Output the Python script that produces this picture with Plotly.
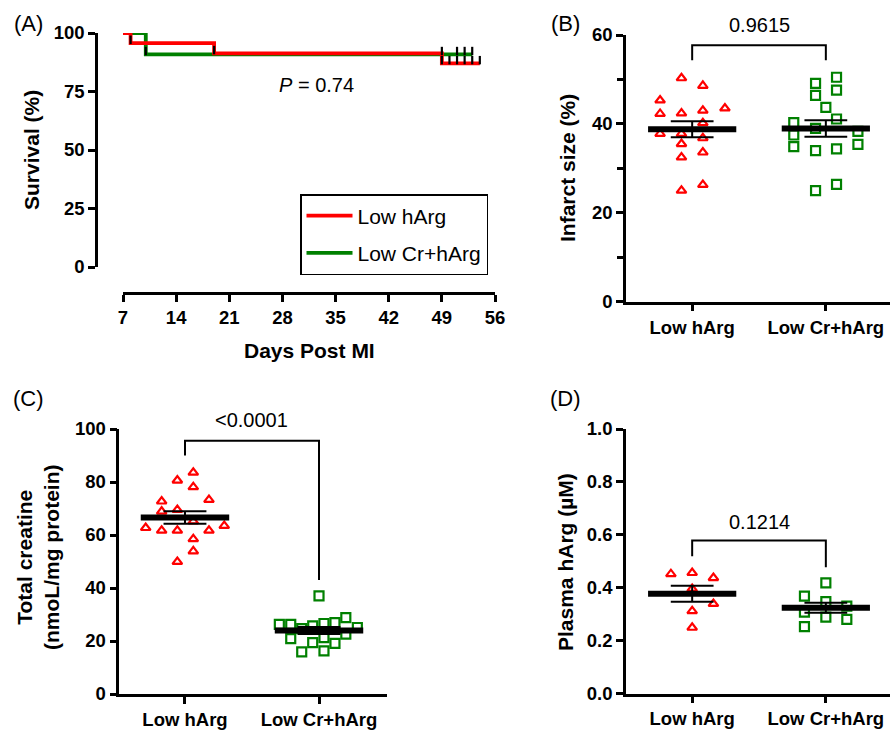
import numpy as np
import plotly.graph_objects as go

# ---------------- data ----------------
# (A) Kaplan-Meier survival
surv_low_t = [7, 8, 19, 49, 54]
surv_low_pct = [100, 95.7, 91.3, 87.0, 87.0]
surv_cr_t = [7, 10, 53]
surv_cr_pct = [100, 90.9, 90.9]
event_low_t = [8, 19, 49]
event_cr_t = [10]
cens_low_t = [50, 51, 52, 53, 54]
cens_cr_t = [49, 51, 52, 53]
days_ticks = [7, 14, 21, 28, 35, 42, 49, 56]
surv_ticks = [0, 25, 50, 75, 100]
p_text_a = "<i>P</i> = 0.74"

groups = ["Low hArg", "Low Cr+hArg"]

# (B) Infarct size (%)
b_low = [50.3, 48.6, 45.3, 43.5, 43.0, 42.4, 42.3, 40.2, 37.8, 37.8, 36.8, 35.5, 33.6, 32.5, 26.3, 25.0]
b_low_jit = [-0.08, 0.08, -0.24, 0.245, 0.08, -0.08, -0.24, 0.08, -0.24, -0.08, 0.08, -0.08, 0.08, -0.08, 0.08, -0.08]
b_cr = [50.5, 49.1, 47.6, 46.4, 43.7, 41.1, 40.3, 39.0, 38.3, 37.5, 35.4, 34.9, 34.4, 34.0, 26.4, 25.0]
b_cr_jit = [0.08, -0.077, 0.08, -0.077, 0.0, 0.08, -0.24, -0.077, 0.24, -0.24, 0.24, -0.24, 0.08, -0.077, 0.08, -0.077]
b_p = "0.9615"

# (C) Total creatine (nmoL/mg protein)
c_low = [83.6, 80.6, 78.1, 72.7, 73.3, 69.5, 68.9, 65.2, 62.7, 61.7, 61.7, 61.7, 63.5, 58.5, 53.9, 49.9]
c_low_jit = [0.062, -0.057, 0.062, -0.174, 0.179, -0.057, -0.174, 0.062, -0.293, -0.174, -0.057, 0.179, 0.293, 0.062, 0.062, -0.057]
c_cr = [37.0, 26.3, 26.3, 24.7, 25.7, 26.6, 26.9, 28.8, 25.1, 20.9, 19.4, 21.3, 19.1, 22.6, 15.9, 16.3]
c_cr_jit = [0.0, -0.296, -0.211, -0.129, -0.047, 0.037, 0.119, 0.2, 0.286, -0.211, -0.047, 0.037, 0.119, 0.2, -0.129, 0.037]
c_p = "<0.0001"

# (D) Plasma hArg (uM)
d_low = [0.452, 0.456, 0.437, 0.396, 0.339, 0.312, 0.249]
d_low_jit = [-0.159, 0.0, 0.159, 0.0, 0.159, 0.0, 0.0]
d_cr = [0.418, 0.368, 0.347, 0.330, 0.308, 0.289, 0.280, 0.253]
d_cr_jit = [0.0, -0.16, 0.0, 0.157, -0.16, 0.0, 0.157, -0.16]
d_p = "0.1214"

RED = "#FF0000"
GREEN = "#008000"
FONT = "Liberation Sans, Arial, sans-serif"
W, H = 891, 730


def px_x(p):
    return p / W


def px_y(p):
    return (H - p) / H


fig = go.Figure()


def step_at(ts, ys, t):
    v = ys[0]
    for tt, yy in zip(ts, ys):
        if tt <= t:
            v = yy
    return v


# ---------- Panel A ----------
fig.add_trace(go.Scatter(x=surv_cr_t, y=surv_cr_pct, mode="lines", line=dict(color=GREEN, width=3.8, shape="hv"),
                         name="Low Cr+hArg", legendrank=2, legendgroup="g2",
                         xaxis="x", yaxis="y", cliponaxis=False))
fig.add_trace(go.Scatter(x=surv_low_t, y=surv_low_pct, mode="lines", line=dict(color=RED, width=3.8, shape="hv"),
                         name="Low hArg", legendrank=1, legendgroup="g1",
                         xaxis="x", yaxis="y", cliponaxis=False))

mk_x, mk_y = [], []
for t in event_low_t + cens_low_t:
    mk_x.append(t)
    mk_y.append(step_at(surv_low_t, surv_low_pct, t) + 1.4)
for t in event_cr_t + cens_cr_t:
    mk_x.append(t)
    mk_y.append(step_at(surv_cr_t, surv_cr_pct, t) + 1.4)
fig.add_trace(go.Scatter(x=mk_x, y=mk_y, mode="markers", showlegend=False, xaxis="x", yaxis="y", cliponaxis=False,
                         marker=dict(symbol="line-ns", size=6, line=dict(color="black", width=2.2))))


# ---------- scatter panels ----------
def dot_panel(xa, ya, low, low_jit, cr, cr_jit):
    fig.add_trace(go.Scatter(x=[0 + j for j in low_jit], y=low, mode="markers", showlegend=False,
                             xaxis=xa, yaxis=ya, cliponaxis=False,
                             marker=dict(symbol="triangle-up-open", size=8.5, color=RED, line=dict(color=RED, width=2.2))))
    fig.add_trace(go.Scatter(x=[1 + j for j in cr_jit], y=cr, mode="markers", showlegend=False,
                             xaxis=xa, yaxis=ya, cliponaxis=False,
                             marker=dict(symbol="square-open", size=9, color=GREEN, line=dict(color=GREEN, width=2.2))))
    for c, vals in ((0, low), (1, cr)):
        arr = np.array(vals, dtype=float)
        m = arr.mean()
        sem = arr.std(ddof=1) / np.sqrt(len(arr))
        # SEM
        fig.add_trace(go.Scatter(x=[c - 0.16, c + 0.16, None, c, c, None, c - 0.16, c + 0.16],
                                 y=[m + sem, m + sem, None, m + sem, m - sem, None, m - sem, m - sem],
                                 mode="lines", line=dict(color="black", width=2), showlegend=False,
                                 xaxis=xa, yaxis=ya, cliponaxis=False, hoverinfo="skip"))
        # mean
        fig.add_trace(go.Scatter(x=[c - 0.33, c + 0.33], y=[m, m], mode="lines",
                                 line=dict(color="black", width=6), showlegend=False,
                                 xaxis=xa, yaxis=ya, cliponaxis=False, hoverinfo="skip"))


def bracket(xa, ya, y_left, y_top, y_right):
    fig.add_trace(go.Scatter(x=[0, 0, 1, 1], y=[y_left, y_top, y_top, y_right], mode="lines",
                             line=dict(color="black", width=2), showlegend=False,
                             xaxis=xa, yaxis=ya, cliponaxis=False, hoverinfo="skip"))


dot_panel("x2", "y2", b_low, b_low_jit, b_cr, b_cr_jit)
bracket("x2", "y2", 54.3, 57.7, 54.3)
dot_panel("x3", "y3", c_low, c_low_jit, c_cr, c_cr_jit)
bracket("x3", "y3", 90.0, 95.6, 43.0)
dot_panel("x4", "y4", d_low, d_low_jit, d_cr, d_cr_jit)
bracket("x4", "y4", 0.519, 0.578, 0.477)

# ---------- axes ----------
tickfont = dict(family=FONT, size=18.5, color="black", weight="bold")
common = dict(showline=True, linecolor="black", linewidth=2.5, ticks="outside", ticklen=7, tickwidth=2.5,
              tickcolor="black", showgrid=False, zeroline=False, tickfont=tickfont, fixedrange=True,
              automargin=False)

cat_range = [-0.495, 1.48]

fig.update_layout(
    width=W, height=H,
    margin=dict(l=0, r=0, t=0, b=0, autoexpand=False),
    paper_bgcolor="white", plot_bgcolor="white",
    font=dict(family=FONT, color="black"),
    xaxis=dict(domain=[px_x(123), px_x(495)], range=[7, 56], tickvals=days_ticks,
               anchor="free", position=px_y(293), **common),
    yaxis=dict(domain=[px_y(267), px_y(33)], range=[0, 100], tickvals=surv_ticks,
               anchor="free", position=px_x(96), **common),
    xaxis2=dict(domain=[px_x(626), px_x(890)], range=cat_range, tickvals=[0, 1], ticktext=groups,
                anchor="y2", **common),
    yaxis2=dict(domain=[px_y(301.7), px_y(35)], range=[0, 60], tickvals=[0, 20, 40, 60],
                minor=dict(tickvals=[10, 30, 50], ticklen=6, tickwidth=2.5, tickcolor="black", ticks="outside"),
                anchor="x2", **common),
    xaxis3=dict(domain=[px_x(119.3), px_x(386.7)], range=[-0.49, 1.505], tickvals=[0, 1], ticktext=groups,
                anchor="y3", **common),
    yaxis3=dict(domain=[px_y(694), px_y(429)], range=[0, 100], tickvals=[0, 20, 40, 60, 80, 100],
                anchor="x3", **common),
    xaxis4=dict(domain=[px_x(626), px_x(890)], range=cat_range, tickvals=[0, 1], ticktext=groups,
                anchor="y4", **common),
    yaxis4=dict(domain=[px_y(693.5), px_y(429)], range=[0, 1], tickvals=[0, 0.2, 0.4, 0.6, 0.8, 1.0],
                tickformat=".1f", anchor="x4", **common),
    legend=dict(x=px_x(300), y=px_y(194), xanchor="left", yanchor="top",
                bordercolor="black", borderwidth=1.5, bgcolor="white", tracegroupgap=7,
                font=dict(family=FONT, size=21, color="black"), itemwidth=46),
    showlegend=True,
)

reg = dict(family=FONT, size=20, color="black")
bold = dict(family=FONT, size=21, color="black", weight="bold")
letter = dict(family=FONT, size=22, color="black")
ann = [
    # panel letters
    dict(text="(A)", x=px_x(29), y=px_y(24), font=letter),
    dict(text="(B)", x=px_x(565), y=px_y(24), font=letter),
    dict(text="(C)", x=px_x(29), y=px_y(399), font=letter),
    dict(text="(D)", x=px_x(565), y=px_y(399), font=letter),
    # axis titles
    dict(text="Survival (%)", x=px_x(31), y=px_y(150), textangle=-90, font=bold),
    dict(text="Days Post MI", x=px_x(309), y=px_y(350), font=bold),
    dict(text="Infarct size (%)", x=px_x(567), y=px_y(168), textangle=-90, font=bold),
    dict(text="Total creatine<br>(nmoL/mg protein)", x=px_x(38), y=px_y(558), textangle=-90, font=bold),
    dict(text="Plasma hArg (µM)", x=px_x(565), y=px_y(562), textangle=-90, font=bold),
    # p values
    dict(text=p_text_a, x=px_x(316), y=px_y(85), font=reg),
    dict(text=b_p, x=px_x(759), y=px_y(25), font=reg),
    dict(text=c_p, x=px_x(251), y=px_y(420), font=reg),
    dict(text=d_p, x=px_x(759), y=px_y(522), font=reg),
]
for a in ann:
    a.setdefault("xref", "paper")
    a.setdefault("yref", "paper")
    a.setdefault("showarrow", False)
    a.setdefault("xanchor", "center")
    a.setdefault("yanchor", "middle")
fig.update_layout(annotations=ann)

fig.write_html("out.html", config={"displayModeBar": False},
               post_script="document.body.style.margin='0';document.body.style.padding='0';")
